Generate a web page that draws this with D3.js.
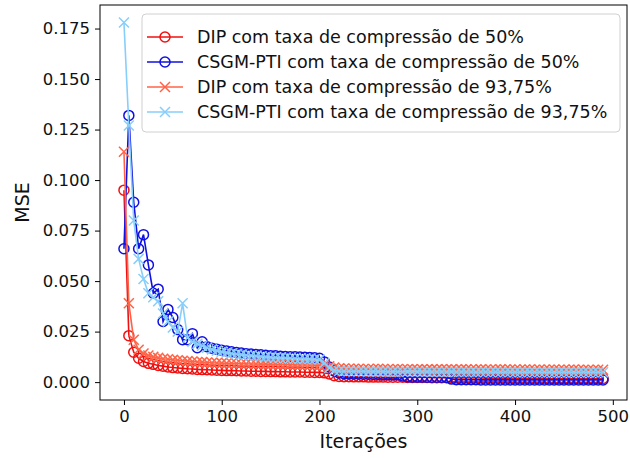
<!DOCTYPE html>
<html><head><meta charset="utf-8">
<script src="https://cdn.jsdelivr.net/npm/d3@7"></script>
<style>body{margin:0;background:#fff}svg{display:block;font-family:"DejaVu Sans",sans-serif}</style>
</head><body><svg id="c" width="630" height="458"></svg>
<script>
const iterations = d3.range(0, 495, 5);
const dip50 = [0.095,0.023,0.0148,0.0118,0.0102,0.0093,0.0088,0.0082,0.0079,0.0075,
0.0072,0.0070,0.0068,0.0066,0.0065,0.0063,0.0062,0.0061,0.0060,0.0059,
0.0058,0.0057,0.0057,0.0056,0.0055,0.0055,0.0054,0.0054,0.0053,0.0053,
0.0052,0.0052,0.0051,0.0051,0.0050,0.0050,0.0050,0.0049,0.0049,0.0048,
0.0048,0.0046,0.0040,0.0032,0.0028,0.0027,0.0027,0.0026,0.0026,0.0026,
0.0025,0.0025,0.0025,0.0025,0.0024,0.0024,0.0024,0.0024,0.0023,0.0023,
0.0023,0.0023,0.0023,0.0022,0.0022,0.0022,0.0022,0.0022,0.0021,0.0021,
0.0021,0.0021,0.0021,0.0021,0.0020,0.0020,0.0020,0.0020,0.0020,0.0020,
0.0019,0.0019,0.0019,0.0019,0.0019,0.0019,0.0019,0.0018,0.0018,0.0018,
0.0018,0.0018,0.0018,0.0018,0.0018,0.0018,0.0018,0.0018,0.0018];
const csgm50 = [0.066,0.132,0.089,0.066,0.073,0.058,0.044,0.046,0.030,0.036,
0.032,0.026,0.021,0.021,0.024,0.017,0.020,0.0175,0.0168,0.0163,
0.0158,0.0154,0.0150,0.0147,0.0144,0.0141,0.0139,0.0137,0.0135,0.0133,
0.0131,0.0130,0.0128,0.0127,0.0126,0.0125,0.0124,0.0123,0.0122,0.0121,
0.0118,0.0100,0.0075,0.0055,0.0045,0.0042,0.0041,0.0040,0.0040,0.0039,
0.0039,0.0038,0.0038,0.0037,0.0037,0.0036,0.0036,0.0030,0.0026,0.0025,
0.0025,0.0025,0.0024,0.0024,0.0024,0.0024,0.0023,0.0015,0.0012,0.0012,
0.0012,0.0012,0.0012,0.0011,0.0011,0.0011,0.0011,0.0011,0.0011,0.0011,
0.0011,0.0011,0.0011,0.0011,0.0011,0.0011,0.0011,0.0011,0.0011,0.0011,
0.0011,0.0011,0.0011,0.0011,0.0011,0.0011,0.0011,0.0011,0.0011];
const dip9375 = [0.114,0.039,0.021,0.016,0.0142,0.0132,0.0125,0.0120,0.0116,0.0113,
0.0110,0.0108,0.0106,0.0104,0.0102,0.0100,0.0099,0.0097,0.0096,0.0095,
0.0094,0.0093,0.0093,0.0092,0.0091,0.0091,0.0090,0.0090,0.0089,0.0089,
0.0088,0.0088,0.0087,0.0087,0.0086,0.0086,0.0085,0.0085,0.0085,0.0084,
0.0084,0.0082,0.0078,0.0072,0.0068,0.0067,0.0066,0.0066,0.0066,0.0065,
0.0065,0.0065,0.0066,0.0065,0.0064,0.0064,0.0065,0.0064,0.0064,0.0064,
0.0063,0.0064,0.0063,0.0063,0.0063,0.0064,0.0063,0.0063,0.0062,0.0063,
0.0063,0.0062,0.0062,0.0063,0.0062,0.0062,0.0062,0.0063,0.0062,0.0062,
0.0062,0.0061,0.0062,0.0062,0.0061,0.0062,0.0061,0.0061,0.0062,0.0061,
0.0061,0.0061,0.0062,0.0061,0.0061,0.0061,0.0060,0.0061,0.0061];
const csgm9375 = [0.178,0.127,0.080,0.061,0.051,0.044,0.042,0.040,0.034,0.030,
0.027,0.025,0.039,0.022,0.020,0.019,0.018,0.017,0.0162,0.0156,
0.0150,0.0146,0.0142,0.0139,0.0136,0.0133,0.0131,0.0129,0.0127,0.0125,
0.0123,0.0122,0.0120,0.0119,0.0118,0.0117,0.0116,0.0115,0.0114,0.0113,
0.0112,0.0095,0.0070,0.0058,0.0055,0.0054,0.0054,0.0053,0.0053,0.0053,
0.0052,0.0052,0.0052,0.0052,0.0051,0.0052,0.0051,0.0051,0.0051,0.0051,
0.0051,0.0050,0.0051,0.0050,0.0050,0.0050,0.0050,0.0051,0.0050,0.0050,
0.0050,0.0050,0.0049,0.0050,0.0050,0.0049,0.0050,0.0049,0.0049,0.0050,
0.0049,0.0049,0.0049,0.0050,0.0049,0.0049,0.0049,0.0049,0.0048,0.0049,
0.0049,0.0049,0.0048,0.0049,0.0049,0.0048,0.0049,0.0049,0.0049];
const seriesNames = ["DIP com taxa de compressão de 50%","CSGM-PTI com taxa de compressão de 50%","DIP com taxa de compressão de 93,75%","CSGM-PTI com taxa de compressão de 93,75%"];
const seriesColors = ["#f01010","#1010e0","#ff6347","#87cefa"];
const seriesMarkers = ["circle","circle","x","x"];
const xTicks = [0,100,200,300,400,500];
const yTicks = [0,0.025,0.05,0.075,0.1,0.125,0.15,0.175];
const xLabel = "Iterações", yLabel = "MSE";

const allSeries = [dip50, csgm50, dip9375, csgm9375];
const svg = d3.select("#c");
const L=100, R=627, T=5, B=400;
const x = d3.scaleLinear().domain([-24.5,514.5]).range([L,R]);
const y = d3.scaleLinear().domain([-0.00885,0.18665]).range([B,T]);

const xAxis = svg.append("g").attr("transform",`translate(0,${B})`)
  .call(d3.axisBottom(x).tickValues(xTicks).tickFormat(d3.format("d")).tickSize(5).tickPadding(5));
const yAxis = svg.append("g").attr("transform",`translate(${L},0)`)
  .call(d3.axisLeft(y).tickValues(yTicks).tickFormat(d3.format(".3f")).tickSize(5).tickPadding(5));
[xAxis,yAxis].forEach(a=>{a.select(".domain").remove();a.selectAll("text").attr("font-size",16.5).attr("fill","#111").attr("font-family","DejaVu Sans");a.selectAll("line").attr("stroke","#000");});

const plot = svg.append("g");
allSeries.forEach((vals,k)=>{
  const pts = vals.map((v,i)=>[iterations[i],v]);
  const line = d3.line().x(d=>x(d[0])).y(d=>y(d[1]));
  plot.append("path").attr("d",line(pts)).attr("fill","none").attr("stroke",seriesColors[k]).attr("stroke-width",1.6);
  const g = plot.append("g");
  pts.forEach(d=>{
    const cx=x(d[0]), cy=y(d[1]);
    if(seriesMarkers[k]==="circle"){
      g.append("circle").attr("cx",cx).attr("cy",cy).attr("r",5).attr("fill","none").attr("stroke",seriesColors[k]).attr("stroke-width",1.5);
    } else {
      const s=5;
      g.append("path").attr("d",`M${cx-s},${cy-s}L${cx+s},${cy+s}M${cx-s},${cy+s}L${cx+s},${cy-s}`).attr("stroke",seriesColors[k]).attr("stroke-width",1.5);
    }
  });
});

svg.append("rect").attr("x",L).attr("y",T).attr("width",R-L).attr("height",B-T).attr("fill","none").attr("stroke","#000").attr("stroke-width",1);

// legend
const lg = svg.append("g");
lg.append("rect").attr("x",142).attr("y",14).attr("width",478).attr("height",118).attr("rx",4)
  .attr("fill","rgba(255,255,255,0.8)").attr("stroke","#d0d0d0");
seriesNames.forEach((n,k)=>{
  const cy = 37 + k*25;
  lg.append("line").attr("x1",147).attr("x2",183).attr("y1",cy).attr("y2",cy).attr("stroke",seriesColors[k]).attr("stroke-width",1.6);
  if(seriesMarkers[k]==="circle") lg.append("circle").attr("cx",165).attr("cy",cy).attr("r",5).attr("fill","none").attr("stroke",seriesColors[k]).attr("stroke-width",1.5);
  else lg.append("path").attr("d",`M160,${cy-5}L170,${cy+5}M160,${cy+5}L170,${cy-5}`).attr("stroke",seriesColors[k]).attr("stroke-width",1.5);
  lg.append("text").attr("x",197).attr("y",cy).attr("dy","0.35em").attr("font-size",17.5).attr("fill","#111").text(n);
});

svg.append("text").attr("x",(L+R)/2).attr("y",448).attr("text-anchor","middle").attr("font-size",19).attr("fill","#111").text(xLabel);
svg.append("text").attr("transform",`translate(29,${(T+B)/2}) rotate(-90)`).attr("text-anchor","middle").attr("font-size",19).attr("fill","#111").text(yLabel);
</script></body></html>
